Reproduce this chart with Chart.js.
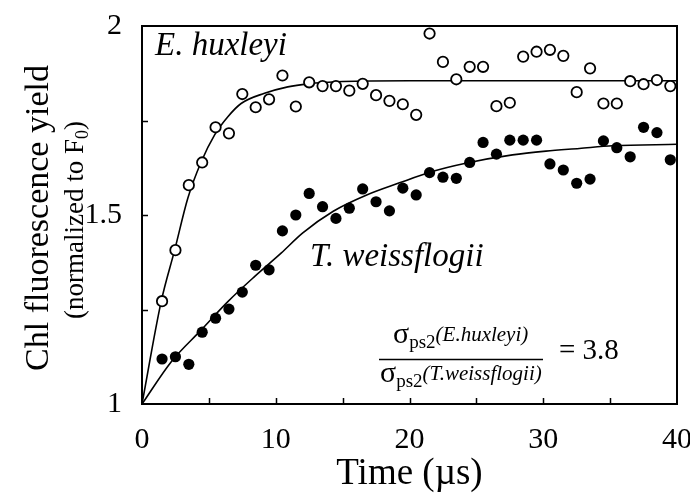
<!DOCTYPE html>
<html>
<head>
<meta charset="utf-8">
<script src="https://cdn.jsdelivr.net/npm/chart.js@4.4.1/dist/chart.umd.min.js"></script>
<style>
  body { margin: 0; background: #fff; }
  #wrap { width: 690px; height: 494px; }
</style>
</head>
<body>
<div id="wrap"><canvas id="fluo"></canvas></div>
<script>
'use strict';

// measured points (time in microseconds)
let timeUs = [1.5, 2.5, 3.5, 4.5, 5.5, 6.5, 7.5, 8.5, 9.5, 10.5,
    11.5, 12.5, 13.5, 14.5, 15.5, 16.5, 17.5, 18.5, 19.5, 20.5,
    21.5, 22.5, 23.5, 24.5, 25.5, 26.5, 27.5, 28.5, 29.5, 30.5,
    31.5, 32.5, 33.5, 34.5, 35.5, 36.5, 37.5, 38.5, 39.5];

let huxleyi = [1.272, 1.407, 1.579, 1.639, 1.732, 1.716, 1.820, 1.785, 1.806, 1.869,
    1.787, 1.851, 1.841, 1.841, 1.829, 1.847, 1.817, 1.802, 1.793, 1.765,
    1.980, 1.905, 1.859, 1.892, 1.892, 1.788, 1.797, 1.919, 1.932, 1.937,
    1.921, 1.825, 1.888, 1.795, 1.795, 1.854, 1.846, 1.857, 1.841];

let weissflogii = [1.119, 1.125, 1.105, 1.190, 1.227, 1.251, 1.296, 1.367, 1.355, 1.458,
    1.500, 1.557, 1.522, 1.491, 1.518, 1.569, 1.535, 1.511, 1.571, 1.553,
    1.612, 1.600, 1.597, 1.639, 1.692, 1.661, 1.698, 1.698, 1.698, 1.635,
    1.619, 1.584, 1.595, 1.696, 1.678, 1.654, 1.732, 1.718, 1.646];

// fitted curves
let huxFitTime = [0, 1.44, 2.44, 3.43, 4.43, 5.43, 6.42, 7.41, 9.16, 10.9, 12.4, 15, 20, 30, 40];
let huxFitYield = [1, 1.272, 1.407, 1.545, 1.641, 1.712, 1.760, 1.795, 1.822, 1.839, 1.847, 1.853, 1.855, 1.855, 1.855];

let weissFitTime = [0, 2.19, 4.43, 6.42, 8.41, 10.4, 12.0, 14.3, 16.8, 19.25, 21.7, 24.2, 27.7, 30.2, 32.7, 35.2, 40];
let weissFitYield = [1, 1.112, 1.196, 1.271, 1.337, 1.399, 1.452, 1.510, 1.553, 1.585, 1.615, 1.637, 1.659, 1.669, 1.676, 1.683, 1.687];

let xTickMarks = [5, 10, 15, 20, 25, 30, 35];
let yTickMarks = [1.25, 1.5, 1.75];

const serif = '"Liberation Serif", "Times New Roman", serif';

function toPoints(xs, ys) {
    return xs.map(function (x, i) { return { x: x, y: ys[i] }; });
}

// draws a row of [text, font, baselineShift] pieces starting at x
function drawPieces(ctx, pieces, x, y) {
    pieces.forEach(function (p) {
        ctx.font = p[1];
        ctx.fillText(p[0], x, y + p[2]);
        x += ctx.measureText(p[0]).width;
    });
    return x;
}

let extras = {
    id: 'extras',
    afterDraw(chart) {
        let ctx = chart.ctx;
        let area = chart.chartArea;
        let xs = chart.scales.x;
        let ys = chart.scales.y;

        ctx.save();
        ctx.strokeStyle = '#000';
        ctx.fillStyle = '#000';

        // top and right edges of the box
        ctx.lineWidth = 2;
        ctx.beginPath();
        ctx.moveTo(area.left, area.top);
        ctx.lineTo(area.right, area.top);
        ctx.lineTo(area.right, area.bottom);
        ctx.stroke();

        // inward tick marks
        ctx.lineWidth = 1.5;
        ctx.beginPath();
        xTickMarks.forEach(function (v) {
            let px = Math.round(xs.getPixelForValue(v)) + 0.5;
            ctx.moveTo(px, area.bottom);
            ctx.lineTo(px, area.bottom - 6);
        });
        yTickMarks.forEach(function (v) {
            let py = Math.round(ys.getPixelForValue(v)) + 0.5;
            ctx.moveTo(area.left, py);
            ctx.lineTo(area.left + 6, py);
        });
        ctx.stroke();

        // axis titles
        ctx.textBaseline = 'alphabetic';
        ctx.textAlign = 'center';
        ctx.font = '37px ' + serif;
        ctx.fillText('Time (µs)', (area.left + area.right) / 2, 484);

        ctx.save();
        ctx.translate(48, 218);
        ctx.rotate(-Math.PI / 2);
        ctx.font = '34px ' + serif;
        ctx.fillText('Chl fluorescence yield', 0, 0);
        ctx.restore();

        ctx.save();
        ctx.translate(83, 220);
        ctx.rotate(-Math.PI / 2);
        ctx.textAlign = 'left';
        let sub = [['(normalized to F', '27px ' + serif, 0], ['0', '18px ' + serif, 5], [')', '27px ' + serif, 0]];
        let w = 0;
        sub.forEach(function (p) { ctx.font = p[1]; w += ctx.measureText(p[0]).width; });
        drawPieces(ctx, sub, -w / 2, 0);
        ctx.restore();

        // species labels
        ctx.textAlign = 'left';
        ctx.font = 'italic 33px ' + serif;
        ctx.fillText('E. huxleyi', 155, 55);
        ctx.fillText('T. weissflogii', 310, 266);

        // ratio of cross sections
        let big = '30px ' + serif;
        let small = '19px ' + serif;
        let ital = 'italic 21px ' + serif;
        drawPieces(ctx, [['σ', big, 0], ['ps2', small, 5], ['(E.huxleyi)', ital, -2]], 393, 343);
        drawPieces(ctx, [['σ', big, 0], ['ps2', small, 5], ['(T.weissflogii)', ital, -2]], 380, 382);
        ctx.lineWidth = 1.5;
        ctx.beginPath();
        ctx.moveTo(379, 359.5);
        ctx.lineTo(543, 359.5);
        ctx.stroke();
        ctx.font = '29px ' + serif;
        ctx.fillText('= 3.8', 559, 359);

        ctx.restore();
    }
};

new Chart(document.getElementById('fluo'), {
    type: 'scatter',
    data: {
        datasets: [{
            label: 'E. huxleyi',
            data: toPoints(timeUs, huxleyi),
            pointRadius: 5.2,
            pointBorderWidth: 1.8,
            backgroundColor: '#fff',
            borderColor: '#000'
        }, {
            label: 'T. weissflogii',
            data: toPoints(timeUs, weissflogii),
            pointRadius: 5.6,
            pointBorderWidth: 0,
            backgroundColor: '#000',
            borderColor: '#000'
        }, {
            label: 'E. huxleyi fit',
            data: toPoints(huxFitTime, huxFitYield),
            showLine: true,
            cubicInterpolationMode: 'monotone',
            pointRadius: 0,
            borderWidth: 1.6,
            borderColor: '#000'
        }, {
            label: 'T. weissflogii fit',
            data: toPoints(weissFitTime, weissFitYield),
            showLine: true,
            cubicInterpolationMode: 'monotone',
            pointRadius: 0,
            borderWidth: 1.6,
            borderColor: '#000'
        }]
    },
    options: {
        responsive: true,
        maintainAspectRatio: false,
        animation: false,
        layout: { padding: { top: 26, right: 13, left: 0, bottom: 0 } },
        plugins: {
            legend: { display: false },
            tooltip: { enabled: false }
        },
        scales: {
            x: {
                min: 0,
                max: 40,
                ticks: {
                    stepSize: 10,
                    padding: 10,
                    color: '#000',
                    maxRotation: 0,
                    font: { family: serif, size: 30 }
                },
                grid: { display: false },
                border: { display: true, color: '#000', width: 2 },
                afterFit(scale) {
                    scale.height = 90;
                    scale.paddingLeft = 0;
                    scale.paddingRight = 0;
                }
            },
            y: {
                min: 1,
                max: 2,
                ticks: {
                    stepSize: 0.5,
                    padding: 12,
                    color: '#000',
                    font: { family: serif, size: 30 },
                    callback: function (value) { return String(value); }
                },
                grid: { display: false },
                border: { display: true, color: '#000', width: 2 },
                afterFit(scale) {
                    scale.width = 142;
                    scale.paddingTop = 0;
                    scale.paddingBottom = 0;
                }
            }
        }
    },
    plugins: [extras]
});
</script>
</body>
</html>
